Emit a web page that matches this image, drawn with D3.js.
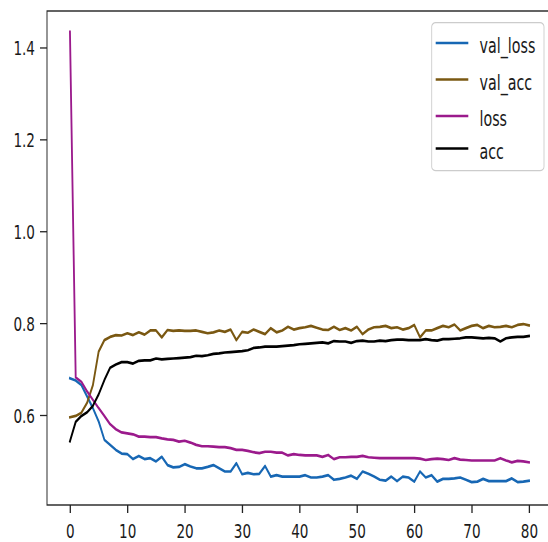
<!DOCTYPE html>
<html>
<head>
<meta charset="utf-8">
<script src="https://cdn.jsdelivr.net/npm/d3@7"></script>
<style>
  html, body { margin: 0; padding: 0; background: #fff; }
  svg { display: block; }
  text { font-family: "DejaVu Sans", sans-serif; }
</style>
</head>
<body>
<svg id="chart"></svg>
<script>
// Training history, one value per epoch (0..80)
const epochs = d3.range(0, 81);

const valLoss = [
  0.680, 0.675, 0.665, 0.640, 0.615, 0.586, 0.546, 0.535, 0.524, 0.516,
  0.515, 0.504, 0.511, 0.504, 0.506, 0.499, 0.509, 0.491, 0.486, 0.487,
  0.493, 0.488, 0.484, 0.484, 0.487, 0.491, 0.484, 0.477, 0.477, 0.495,
  0.471, 0.474, 0.471, 0.472, 0.489, 0.466, 0.469, 0.466, 0.466, 0.466,
  0.466, 0.469, 0.464, 0.464, 0.466, 0.469, 0.459, 0.461, 0.464, 0.468,
  0.461, 0.477, 0.472, 0.466, 0.459, 0.457, 0.466, 0.456, 0.466, 0.464,
  0.455, 0.477, 0.464, 0.469, 0.455, 0.461, 0.461, 0.462, 0.464, 0.459,
  0.454, 0.455, 0.461, 0.456, 0.456, 0.456, 0.456, 0.462, 0.454, 0.455,
  0.457
];

const valAcc = [
  0.595, 0.598, 0.605, 0.627, 0.665, 0.738, 0.763, 0.770, 0.774, 0.773,
  0.778, 0.774, 0.780, 0.775, 0.784, 0.784, 0.769, 0.785, 0.783, 0.784,
  0.783, 0.783, 0.784, 0.781, 0.778, 0.780, 0.784, 0.781, 0.786, 0.763,
  0.781, 0.779, 0.786, 0.781, 0.776, 0.789, 0.780, 0.784, 0.792, 0.786,
  0.789, 0.791, 0.794, 0.790, 0.786, 0.785, 0.792, 0.785, 0.789, 0.784,
  0.792, 0.776, 0.786, 0.791, 0.792, 0.794, 0.789, 0.791, 0.786, 0.789,
  0.796, 0.769, 0.784, 0.784, 0.789, 0.794, 0.791, 0.797, 0.784, 0.789,
  0.794, 0.796, 0.789, 0.794, 0.791, 0.792, 0.794, 0.791, 0.796, 0.798,
  0.795
];

const loss = [
  1.434, 0.682, 0.672, 0.651, 0.633, 0.615, 0.598, 0.580, 0.569, 0.562,
  0.560, 0.558, 0.553, 0.553, 0.552, 0.552, 0.549, 0.547, 0.546, 0.542,
  0.544, 0.540, 0.535, 0.532, 0.532, 0.531, 0.530, 0.530, 0.528, 0.524,
  0.524, 0.522, 0.519, 0.517, 0.520, 0.520, 0.518, 0.518, 0.512, 0.515,
  0.513, 0.512, 0.512, 0.512, 0.509, 0.513, 0.504, 0.508, 0.508, 0.509,
  0.509, 0.511, 0.508, 0.507, 0.506, 0.506, 0.506, 0.506, 0.506, 0.506,
  0.506, 0.505, 0.502, 0.504, 0.505, 0.504, 0.502, 0.506, 0.503, 0.502,
  0.501, 0.501, 0.501, 0.501, 0.501, 0.506, 0.501, 0.497, 0.500, 0.499,
  0.497
];

const acc = [
  0.543, 0.585, 0.598, 0.606, 0.620, 0.645, 0.676, 0.703, 0.710, 0.715,
  0.715, 0.712, 0.718, 0.719, 0.719, 0.723, 0.721, 0.722, 0.723, 0.724,
  0.725, 0.726, 0.729, 0.728, 0.730, 0.733, 0.734, 0.736, 0.737, 0.738,
  0.739, 0.741, 0.746, 0.747, 0.749, 0.749, 0.749, 0.750, 0.751, 0.752,
  0.754, 0.755, 0.756, 0.757, 0.758, 0.756, 0.761, 0.760, 0.760, 0.757,
  0.761, 0.762, 0.760, 0.760, 0.762, 0.761, 0.763, 0.764, 0.764, 0.763,
  0.763, 0.763, 0.765, 0.763, 0.762, 0.765, 0.765, 0.766, 0.767, 0.769,
  0.769, 0.768, 0.767, 0.768, 0.767, 0.760, 0.767, 0.769, 0.770, 0.770,
  0.772
];

const seriesNames = ["val_loss", "val_acc", "loss", "acc"];
const seriesValues = [valLoss, valAcc, loss, acc];
const seriesColors = ["#1767b4", "#7a5812", "#9b1a8c", "#000000"];

const xTicks = d3.range(0, 81, 10);
const yTicks = [0.6, 0.8, 1.0, 1.2, 1.4];

// The figure is drawn in a wider coordinate space and squeezed horizontally
const W = 548, H = 542, k = 0.68;
const VW = W / k;

const svg = d3.select("#chart")
  .attr("width", W).attr("height", H)
  .attr("viewBox", `0 0 ${VW} ${H}`)
  .attr("preserveAspectRatio", "none");

const plotLeft = 47 / k, plotRight = 552 / k, plotTop = 11, plotBottom = 505;

const x = d3.scaleLinear().domain([-4, 84]).range([plotLeft, plotRight]);
const y = d3.scaleLinear().domain([0.4041, 1.4794]).range([plotBottom, plotTop]);

// axes
const yAxis = svg.append("g")
  .attr("transform", `translate(${plotLeft},0)`)
  .call(d3.axisLeft(y).tickValues(yTicks).tickFormat(d3.format(".1f"))
    .tickSize(7 / k).tickSizeOuter(0).tickPadding(5 / k));
yAxis.select(".domain").remove();
yAxis.selectAll("text").attr("font-size", 20).attr("fill", "#1a1a1a")
  .attr("font-family", "DejaVu Sans").attr("dy", "0.36em");
yAxis.selectAll("line").attr("stroke", "#222").attr("stroke-width", 1.3);

const xAxis = svg.append("g")
  .attr("transform", `translate(0,${plotBottom})`)
  .call(d3.axisBottom(x).tickValues(xTicks).tickFormat(d3.format("d"))
    .tickSize(8).tickSizeOuter(0).tickPadding(11));
xAxis.select(".domain").remove();
xAxis.selectAll("text").attr("font-size", 20).attr("fill", "#1a1a1a")
  .attr("font-family", "DejaVu Sans");
xAxis.selectAll("line").attr("stroke", "#222").attr("stroke-width", 1.3 / k);

// plot lines
const line = d3.line()
  .x((d, i) => x(epochs[i]))
  .y(d => y(d));

svg.append("g")
  .selectAll("path")
  .data(seriesValues)
  .join("path")
  .attr("d", line)
  .attr("fill", "none")
  .attr("stroke", (d, i) => seriesColors[i])
  .attr("stroke-width", 2.7)
  .attr("stroke-linejoin", "round")
  .attr("stroke-linecap", "square");

// frame
svg.append("rect")
  .attr("x", plotLeft).attr("y", plotTop)
  .attr("width", plotRight - plotLeft).attr("height", plotBottom - plotTop)
  .attr("fill", "none").attr("stroke", "#222").attr("stroke-width", 1.4);

// legend
const legend = svg.append("g");
legend.append("rect")
  .attr("x", 431.7 / k).attr("y", 22.7)
  .attr("width", (544 - 431.7) / k).attr("height", 148)
  .attr("rx", 4 / k).attr("ry", 4)
  .attr("fill", "#fff").attr("fill-opacity", 0.8)
  .attr("stroke", "#cccccc").attr("stroke-width", 1.3);

const legendY = [43, 79.5, 116, 148.5];
const entries = legend.selectAll("g.entry")
  .data(seriesNames)
  .join("g").attr("class", "entry");
entries.append("line")
  .attr("x1", 435.7 / k).attr("x2", 468.3 / k)
  .attr("y1", (d, i) => legendY[i]).attr("y2", (d, i) => legendY[i])
  .attr("stroke", (d, i) => seriesColors[i])
  .attr("stroke-width", 2.7);
entries.append("text")
  .attr("x", 479.5 / k)
  .attr("y", (d, i) => legendY[i] + 10.5)
  .attr("font-size", 21)
  .attr("fill", "#1a1a1a")
  .text(d => d);
</script>
</body>
</html>
